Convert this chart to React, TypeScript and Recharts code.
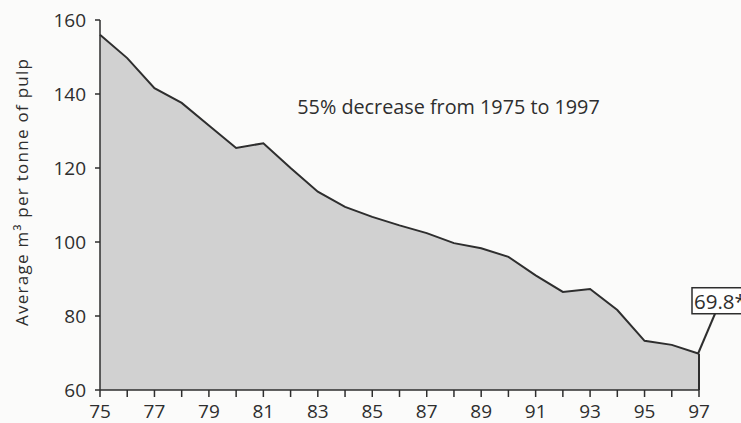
import React from 'react';
import { AreaChart, Area, XAxis, YAxis, ReferenceDot, ReferenceLine, Label } from 'recharts';

const years = [75, 76, 77, 78, 79, 80, 81, 82, 83, 84, 85, 86, 87, 88, 89, 90, 91, 92, 93, 94, 95, 96, 97];
const waterUse = [156, 149.7, 141.6, 137.6, 131.5, 125.4, 126.7, 120, 113.6, 109.5, 106.8, 104.5, 102.4, 99.7, 98.3, 96, 91, 86.5, 87.3, 81.6, 73.3, 72.2, 69.8];
const yTicks = [60, 80, 100, 120, 140, 160];
const yLabel = 'Average m\u00B3 per tonne of pulp';
const annotation = '55% decrease from 1975 to 1997';
const lastLabel = '69.8*';

const data = years.map((y, i) => ({ year: y, value: waterUse[i] }));
const lastYear = years[years.length - 1];
const lastValue = waterUse[waterUse.length - 1];

const FONT = '"Open Sans", "Noto Sans", sans-serif';
const INK = '#2e2e2e';

const XTick = (props: any) => {
  const { x, y, payload } = props;
  const v = payload.value as number;
  if (v % 2 !== 1) return null;
  return (
    <text x={x} y={y + 13.5} textAnchor="middle" fill={INK} fontSize={19} fontFamily={FONT}>
      {String(v)}
    </text>
  );
};

const YTick = (props: any) => {
  const { x, y, payload } = props;
  return (
    <text x={x} y={y + 7} textAnchor="end" fill={INK} fontSize={19} fontFamily={FONT}>
      {String(payload.value)}
    </text>
  );
};

const YLabelContent = () => {
  const cx = 27.5;
  const cy = 192.5;
  return (
    <text
      x={cx}
      y={cy}
      transform={`rotate(-90, ${cx}, ${cy})`}
      textAnchor="middle"
      fill={INK}
      fontSize={17}
      fontFamily={FONT}
      textLength={267}
      lengthAdjust="spacing"
    >
      {yLabel}
    </text>
  );
};

const AnnotationContent = (props: any) => {
  const vb = props.viewBox || {};
  return (
    <text x={vb.x} y={vb.y} textAnchor="middle" dominantBaseline="central" fill={INK} fontSize={19.8} fontFamily={FONT}>
      {annotation}
    </text>
  );
};

const LastLabelContent = (props: any) => {
  const vb = props.viewBox || {};
  const px = vb.x;
  const py = vb.y;
  const bx = px - 7;
  const by = py - 66;
  return (
    <g>
      <line x1={px - 1} y1={py} x2={px + 16} y2={by + 26} stroke={INK} strokeWidth={2} />
      <rect x={bx} y={by} width={60} height={26} fill="#ffffff" stroke={INK} strokeWidth={1.5} />
      <text x={bx + 2} y={by + 21} fill={INK} fontSize={20.5} fontFamily={FONT}>{lastLabel}</text>
    </g>
  );
};

export default function App() {
  return (
    <div style={{ position: 'absolute', left: 0, top: 0, width: 741, height: 423, background: '#fbfbfa', overflow: 'hidden' }}>
      <AreaChart width={741} height={423} data={data} margin={{ top: 20, right: 42, bottom: 0, left: 40 }}>
        <XAxis
          dataKey="year"
          type="number"
          domain={[75, 97]}
          ticks={years}
          interval={0}
          height={33}
          tickSize={7}
          tickMargin={7}
          stroke={INK}
          strokeWidth={1.5}
          tick={<XTick />}
          tickLine={{ stroke: INK, strokeWidth: 1.5 }}
        />
        <YAxis
          type="number"
          domain={[60, 160]}
          ticks={yTicks}
          interval={0}
          width={60}
          tickSize={5}
          tickMargin={9}
          stroke={INK}
          strokeWidth={1.5}
          tick={<YTick />}
          tickLine={{ stroke: INK, strokeWidth: 1.5 }}
        >
          <Label content={<YLabelContent />} />
        </YAxis>
        <Area
          type="linear"
          dataKey="value"
          stroke={INK}
          strokeWidth={2}
          fill="#d1d1d1"
          fillOpacity={1}
          isAnimationActive={false}
          dot={false}
          activeDot={false}
        />
        <ReferenceLine
          segment={[{ x: lastYear, y: 60 }, { x: lastYear, y: lastValue }]}
          stroke={INK}
          strokeWidth={2}
        />
        <ReferenceDot x={87.8} y={136.5} r={0} stroke="none" fill="none" label={<AnnotationContent />} />
        <ReferenceDot x={lastYear} y={lastValue} r={0} stroke="none" fill="none" label={<LastLabelContent />} />
      </AreaChart>
    </div>
  );
}
